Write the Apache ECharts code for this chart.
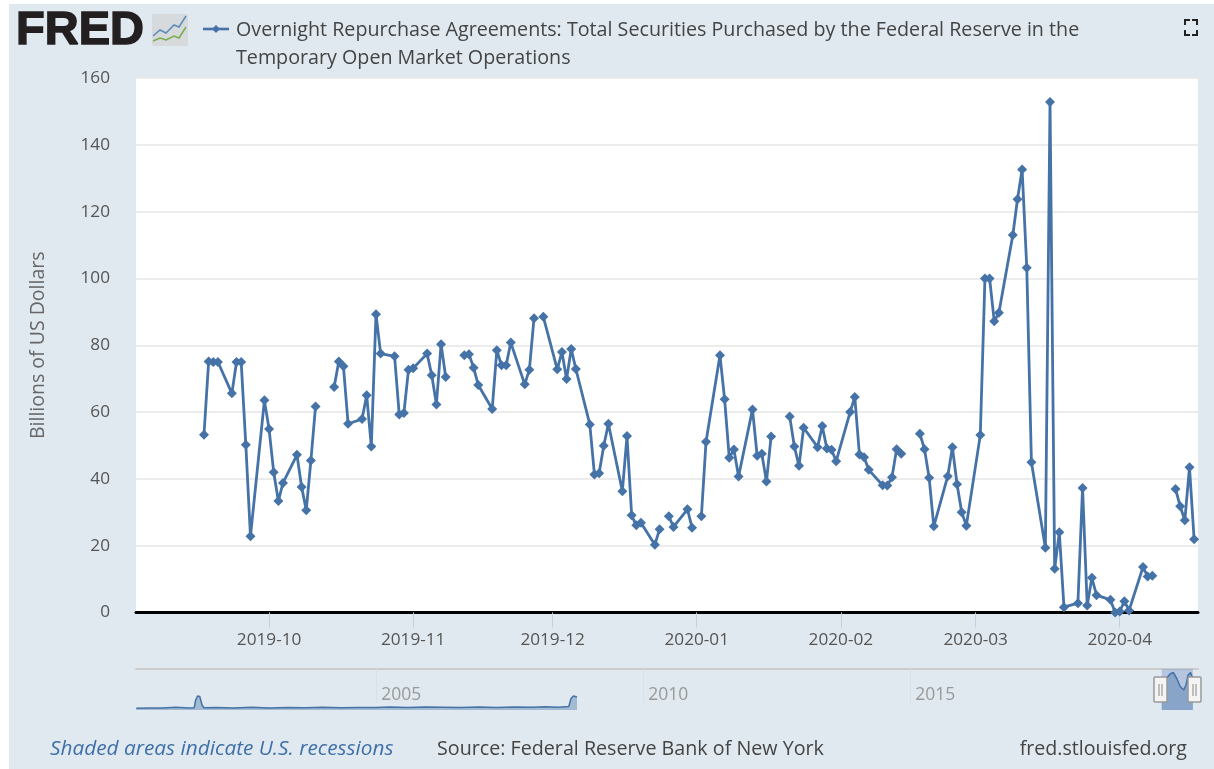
<!DOCTYPE html>
<html>
<head>
<meta charset="utf-8" />
<title>Overnight Repurchase Agreements</title>
<script src="https://cdn.jsdelivr.net/npm/echarts@6/dist/echarts.min.js"></script>
<style>
    html, body { margin: 0; padding: 0; background: #fff; }
    /* the source screenshot is slightly soft */
    #content { width: 1214px; height: 769px; filter: blur(0.45px); }
</style>
</head>
<body>
<div id="content"></div>
<script type="text/javascript">
// daily values, null = no operation that day (line breaks)
var dates = [
    "2019-09-17","2019-09-18","2019-09-19","2019-09-20","2019-09-23","2019-09-24","2019-09-25","2019-09-26","2019-09-27","2019-09-30",
    "2019-10-01","2019-10-02","2019-10-03","2019-10-04","2019-10-07","2019-10-08","2019-10-09","2019-10-10","2019-10-11","2019-10-14",
    "2019-10-15","2019-10-16","2019-10-17","2019-10-18","2019-10-21","2019-10-22","2019-10-23","2019-10-24","2019-10-25","2019-10-28",
    "2019-10-29","2019-10-30","2019-10-31","2019-11-01","2019-11-04","2019-11-05","2019-11-06","2019-11-07","2019-11-08","2019-11-11",
    "2019-11-12","2019-11-13","2019-11-14","2019-11-15","2019-11-18","2019-11-19","2019-11-20","2019-11-21","2019-11-22","2019-11-25",
    "2019-11-26","2019-11-27","2019-11-28","2019-11-29","2019-12-02","2019-12-03","2019-12-04","2019-12-05","2019-12-06","2019-12-09",
    "2019-12-10","2019-12-11","2019-12-12","2019-12-13","2019-12-16","2019-12-17","2019-12-18","2019-12-19","2019-12-20","2019-12-23",
    "2019-12-24","2019-12-25","2019-12-26","2019-12-27","2019-12-30","2019-12-31","2020-01-01","2020-01-02","2020-01-03","2020-01-06",
    "2020-01-07","2020-01-08","2020-01-09","2020-01-10","2020-01-13","2020-01-14","2020-01-15","2020-01-16","2020-01-17","2020-01-20",
    "2020-01-21","2020-01-22","2020-01-23","2020-01-24","2020-01-27","2020-01-28","2020-01-29","2020-01-30","2020-01-31","2020-02-03",
    "2020-02-04","2020-02-05","2020-02-06","2020-02-07","2020-02-10","2020-02-11","2020-02-12","2020-02-13","2020-02-14","2020-02-17",
    "2020-02-18","2020-02-19","2020-02-20","2020-02-21","2020-02-24","2020-02-25","2020-02-26","2020-02-27","2020-02-28","2020-03-02",
    "2020-03-03","2020-03-04","2020-03-05","2020-03-06","2020-03-09","2020-03-10","2020-03-11","2020-03-12","2020-03-13","2020-03-16",
    "2020-03-17","2020-03-18","2020-03-19","2020-03-20","2020-03-23","2020-03-24","2020-03-25","2020-03-26","2020-03-27","2020-03-30",
    "2020-03-31","2020-04-01","2020-04-02","2020-04-03","2020-04-06","2020-04-07","2020-04-08","2020-04-09","2020-04-10","2020-04-13",
    "2020-04-14","2020-04-15","2020-04-16","2020-04-17"
];
var values = [
    53.2,75.1,75,75,65.6,75,75,50.2,22.8,63.5,
    54.9,42,33.4,38.8,47.2,37.6,30.6,45.5,61.7,null,
    67.5,75.1,73.7,56.5,57.9,65,49.7,89.3,77.5,76.7,
    59.3,59.7,72.7,73.1,77.5,71,62.3,80.3,70.5,null,
    77,77.3,73.3,68.1,60.9,78.5,74,74,80.8,68.3,
    72.7,88.1,null,88.5,72.8,78,69.9,78.9,72.9,56.3,
    41.3,41.7,49.9,56.5,36.3,52.8,29.1,26.1,26.9,20.3,
    24.9,null,28.8,25.6,30.9,25.4,null,28.8,51.1,77,
    63.8,46.3,48.8,40.7,60.8,46.9,47.5,39.2,52.7,null,
    58.7,49.7,43.9,55.3,49.5,55.8,49.1,48.7,45.3,60,
    64.5,47.3,46.5,42.7,38.1,38,40.5,48.9,47.5,null,
    53.5,48.9,40.3,25.8,40.8,49.5,38.4,30,26,53.1,
    100,100,87.2,89.7,113,123.7,132.6,103.2,45,19.4,
    152.8,13.1,24,1.6,2.8,37.3,2.1,10.4,5.2,3.8,
    0,0.3,3.4,0.6,13.6,10.8,11,null,null,37,
    31.8,27.6,43.5,21.9
];
var monthTicks = ["2019-10-01","2019-11-01","2019-12-01","2020-01-01","2020-02-01","2020-03-01","2020-04-01"];

// navigator strip, long history (rough read, the strip is only ~40px high)
var navDates = [
    "2000-07-05","2000-10-01","2001-01-01","2001-04-01","2001-07-01","2001-08-05","2001-08-15","2001-08-28","2001-09-12","2001-09-28",
    "2001-10-10","2002-01-01","2002-05-01","2002-09-01","2003-01-01","2003-05-01","2003-09-01","2004-01-01","2004-05-01","2004-09-01",
    "2005-01-01","2005-04-01","2005-08-01","2005-12-01","2006-04-01","2006-08-01","2006-12-01","2007-04-01","2007-08-01","2007-12-01",
    "2008-03-01","2008-06-01","2008-08-10","2008-08-25","2008-09-10","2008-10-05","2008-10-08",
    "2019-09-17","2019-10-10","2019-11-15","2019-12-05","2019-12-30","2020-01-20","2020-02-14","2020-03-01","2020-03-15","2020-04-01","2020-04-17"
];
var navValues = [
    7,8,8,11,8,9,40,56,54,20,
    9,10,8,11,8,10,9,11,9,10,
    10,12,10,12,11,10,12,10,12,11,
    13,11,14,46,56,52,null,
    105,120,145,150,125,95,80,100,140,150,125
];
var navYears = ["2005-01-01","2010-01-01","2015-01-01"];

var titleLines = "Overnight Repurchase Agreements: Total Securities Purchased by the Federal Reserve in the\nTemporary Open Market Operations";
var yName = "Billions of US Dollars";
var fredBlue = "#4572A7";
var font = "'Open Sans', sans-serif";

function ts(d) { return Date.parse(d + "T00:00:00Z"); }
function pairs(xs, ys) {
    var out = [];
    for (var i = 0; i < xs.length; i++) out.push([ts(xs[i]), ys[i]]);
    return out;
}
function handle(x) {
    return {
        type: "group", children: [
            { type: "rect", z: 100, shape: { x: x, y: 677, width: 13, height: 25, r: 1 }, style: { fill: "#f4f4f4", stroke: "#999", lineWidth: 1.5 } },
            { type: "line", z: 101, shape: { x1: x + 5, y1: 684, x2: x + 5, y2: 696 }, style: { stroke: "#888", lineWidth: 1 } },
            { type: "line", z: 101, shape: { x1: x + 8, y1: 684, x2: x + 8, y2: 696 }, style: { stroke: "#888", lineWidth: 1 } }
        ]
    };
}
function corner(pts) {
    return { type: "polyline", shape: { points: pts }, style: { stroke: "#222", fill: null, lineWidth: 2 } };
}
function footer(x, text, align, color, size, italic) {
    return { type: "text", x: x, y: 749, style: { text: text, font: (italic ? "italic " : "") + size + "px " + font, fill: color, align: align, verticalAlign: "middle" } };
}

var myChart = echarts.init(document.getElementById("content"));
myChart.setOption({
    animation: false,
    backgroundColor: "#fff",
    title: {
        text: titleLines, left: 236, top: 16, padding: 0,
        textStyle: { fontFamily: font, fontSize: 19.7, fontWeight: "normal", color: "#444", lineHeight: 28 }
    },
    grid: [
        { left: 136, top: 78, width: 1062, height: 534.5, backgroundColor: "#fff", show: true, borderWidth: 0 },
        { left: 136, top: 669, width: 1062, height: 41 }
    ],
    xAxis: [{
        type: "value", scale: true,
        min: ts("2019-09-02") + 9 * 3600000, max: ts("2020-04-17") + 20 * 3600000,
        axisLine: { onZero: false, lineStyle: { color: "#000", width: 3 } },
        axisTick: { show: true, length: 15, customValues: monthTicks.map(ts), lineStyle: { color: "#C0D0E0", width: 1 } },
        axisLabel: {
            customValues: monthTicks.map(ts),
            formatter: function (v) { return echarts.time.format(v, "{yyyy}-{MM}", true); },
            fontFamily: font, fontSize: 17.2, color: "#555", margin: 19
        },
        splitLine: { show: false }
    }, {
        type: "value", scale: true, gridIndex: 1, position: "top",
        min: ts("2000-07-03"), max: ts("2020-05-22"),
        axisLine: { onZero: false, lineStyle: { color: "#ccc", width: 2 } },
        axisTick: { show: true, inside: true, length: 34, customValues: navYears.map(ts), lineStyle: { color: "#d8e0e8" } },
        axisLabel: {
            inside: true, margin: 17, align: "left", padding: [0, 0, 0, 5],
            customValues: navYears.map(ts),
            formatter: function (v) { return echarts.time.format(v, "{yyyy}", true); },
            fontFamily: font, fontSize: 17.5, color: "#999"
        },
        splitLine: { show: false }
    }],
    yAxis: [{
        type: "value", min: 0, max: 160, interval: 20,
        name: yName, nameLocation: "middle", nameGap: 88, nameRotate: 90,
        nameTextStyle: { fontFamily: font, fontSize: 19.5, color: "#666" },
        axisLine: { show: false }, axisTick: { show: false },
        axisLabel: { fontFamily: font, fontSize: 17.2, color: "#555", margin: 26 },
        splitLine: { lineStyle: { color: "#E6E6E6", width: 1.5 } }
    }, {
        type: "value", gridIndex: 1, min: 0, max: 164, show: false, splitLine: { show: false }
    }],
    series: [{
        type: "line", name: "Overnight Repurchase Agreements",
        data: pairs(dates, values),
        connectNulls: false, clip: false,
        symbol: "diamond", symbolSize: 10, showAllSymbol: true,
        lineStyle: { color: fredBlue, width: 2.8 },
        itemStyle: { color: fredBlue }
    }, {
        type: "line", xAxisIndex: 1, yAxisIndex: 1,
        data: pairs(navDates, navValues),
        connectNulls: false, showSymbol: false, silent: true,
        lineStyle: { color: fredBlue, width: 1.5 },
        areaStyle: { color: fredBlue, opacity: 0.4 },
        markArea: {
            silent: true, itemStyle: { color: "rgba(102,133,194,0.35)" },
            data: [[{ xAxis: ts("2019-09-17") }, { xAxis: ts("2020-04-17") }]]
        }
    }],
    graphic: { elements: [
        // page panel behind everything
        { type: "rect", z: -10, shape: { x: 9, y: 4, width: 1205, height: 765 }, style: { fill: "#E1E9F0" } },
        // FRED logo
        { type: "text", x: 16, y: 31, style: { text: "FRED", font: "bold 47px 'Liberation Sans'", fill: "#231f20", stroke: "#231f20", lineWidth: 1.5, verticalAlign: "middle" } },
        { type: "rect", shape: { x: 152, y: 14, width: 36, height: 32, r: 2 }, style: { fill: "#d6dadd" } },
        { type: "polyline", shape: { points: [[153, 36], [160, 30], [166, 33], [174, 25], [179, 27], [186, 16]] }, style: { stroke: "#5b8db8", fill: null, lineWidth: 1.5 } },
        { type: "polyline", shape: { points: [[153, 41], [160, 38], [166, 40], [174, 36], [179, 38], [186, 27]] }, style: { stroke: "#7cab4a", fill: null, lineWidth: 1.5 } },
        // legend key
        { type: "line", shape: { x1: 203, y1: 29, x2: 229, y2: 29 }, style: { stroke: fredBlue, lineWidth: 2.6 } },
        { type: "polygon", shape: { points: [[216, 25], [220, 29], [216, 33], [212, 29]] }, style: { fill: fredBlue } },
        // fullscreen icon
        corner([[1185, 25], [1185, 20], [1190, 20]]), corner([[1192, 20], [1197, 20], [1197, 25]]),
        corner([[1185, 30], [1185, 35], [1190, 35]]), corner([[1192, 35], [1197, 35], [1197, 30]]),
        // navigator handles
        handle(1154), handle(1188),
        // footer
        footer(50, "Shaded areas indicate U.S. recessions", "left", "#3E6FA8", 20.8, true),
        footer(437, "Source: Federal Reserve Bank of New York", "left", "#444", 19.7, false),
        footer(1187, "fred.stlouisfed.org", "right", "#444", 19.6, false)
    ] }
});
</script>
</body>
</html>
